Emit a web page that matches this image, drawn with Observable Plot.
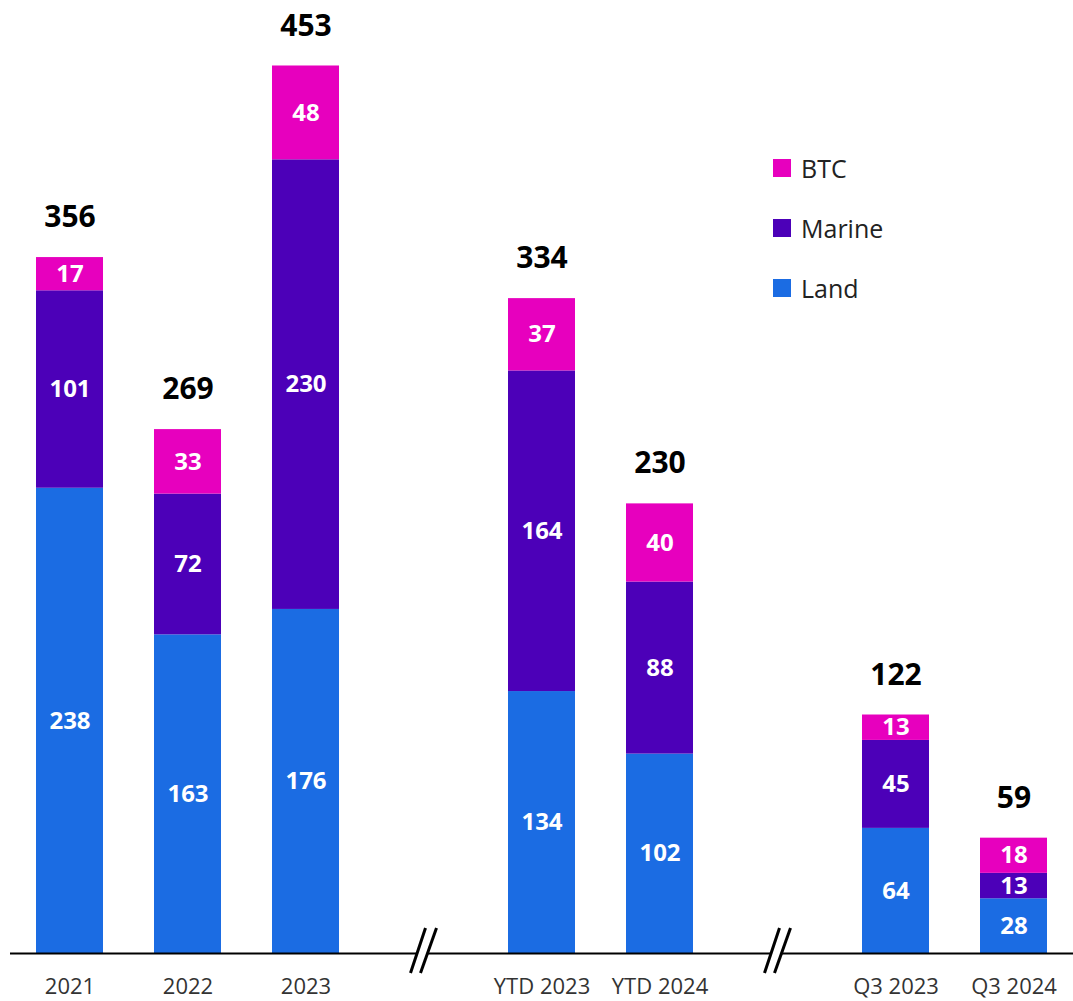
<!DOCTYPE html>
<html>
<head>
<meta charset="utf-8">
<script src="https://cdn.jsdelivr.net/npm/d3@7"></script>
<script src="https://cdn.jsdelivr.net/npm/@observablehq/plot@0.6"></script>
<style>
  html, body { margin: 0; padding: 0; background: #fff; }
  #wrap { position: relative; width: 1073px; height: 1001px; overflow: hidden; font-family: "Open Sans", "Noto Sans", sans-serif; }
  #legend { position: absolute; left: 773px; top: 138px; }
  .item { display: flex; align-items: center; height: 60px; font-size: 25px; color: #222; }
  .item span.sw { width: 18px; height: 18px; margin-right: 10px; display: inline-block; }
</style>
</head>
<body>
<div id="wrap"><div id="legend"></div></div>
<script>
const categories = ["2021", "2022", "2023", "YTD 2023", "YTD 2024", "Q3 2023", "Q3 2024"];
const slots = ["2021", "2022", "2023", "gap1", "YTD 2023", "YTD 2024", "gap2", "Q3 2023", "Q3 2024"];
const breaks = ["gap1", "gap2"];
const land = [238, 163, 176, 134, 102, 64, 28];
const marine = [101, 72, 230, 164, 88, 45, 13];
const btc = [17, 33, 48, 37, 40, 13, 18];
const totals = [356, 269, 453, 334, 230, 122, 59];
const seriesNames = ["Land", "Marine", "BTC"];
const seriesColors = ["#1B6CE3", "#4C00B8", "#E700BE"];

const rows = [];
categories.forEach((c, i) => {
  rows.push({cat: c, series: "Land", value: land[i]});
  rows.push({cat: c, series: "Marine", value: marine[i]});
  rows.push({cat: c, series: "BTC", value: btc[i]});
});
const totalRows = categories.map((c, i) => ({cat: c, total: totals[i], top: land[i] + marine[i] + btc[i]}));

const font = `"Open Sans", "Noto Sans", sans-serif`;

const plot = Plot.plot({
  width: 1073,
  height: 1001,
  marginLeft: 10,
  marginRight: 0,
  marginTop: 0,
  marginBottom: 48,
  style: {fontFamily: font, background: "white"},
  x: {domain: slots, range: [10, 1073], paddingInner: 0.43, paddingOuter: 0.215, label: null, axis: null},
  y: {domain: [0, 487.5], axis: null},
  color: {domain: seriesNames, range: seriesColors},
  marks: [
    Plot.barY(rows, {x: "cat", y: "value", fill: "series", order: seriesNames}),
    Plot.text(rows, Plot.stackY({x: "cat", y: "value", z: "series", order: seriesNames, text: d => String(d.value), fill: "white", fontSize: 24, fontWeight: "bold"})),
    Plot.text(totalRows, {x: "cat", y: "top", text: d => String(d.total), dy: -40, fill: "black", fontSize: 30, fontWeight: "bold"}),
    Plot.ruleY([0], {stroke: "black", strokeWidth: 2}),
    Plot.axisX({ticks: categories, tickSize: 0, tickPadding: 25, fontSize: 22, color: "#333", label: null, tickFormat: d => d})
  ]
});

document.getElementById("wrap").prepend(plot);

// break marks placed in the gap slots, using the plot's scales
const xs = plot.scale("x"), ys = plot.scale("y");
const svg = d3.select(plot);
const y0 = ys.apply(0);
breaks.forEach(b => {
  const cx = xs.apply(b) + xs.bandwidth / 2;
  const g = svg.append("g");
  g.append("polygon")
    .attr("points", [[cx - 13, y0 + 20], [cx + 2, y0 - 25], [cx + 13, y0 - 25], [cx - 3, y0 + 20]].map(p => p.join(",")).join(" "))
    .attr("fill", "white");
  g.append("line").attr("x1", cx - 13).attr("y1", y0 + 20).attr("x2", cx + 2).attr("y2", y0 - 25).attr("stroke", "black").attr("stroke-width", 3);
  g.append("line").attr("x1", cx - 3).attr("y1", y0 + 20).attr("x2", cx + 13).attr("y2", y0 - 25).attr("stroke", "black").attr("stroke-width", 3);
});

// legend (top to bottom: BTC, Marine, Land)
const legend = document.getElementById("legend");
[2, 1, 0].forEach(i => {
  const it = document.createElement("div");
  it.className = "item";
  it.innerHTML = `<span class="sw" style="background:${seriesColors[i]}"></span>${seriesNames[i]}`;
  legend.appendChild(it);
});
</script>
</body>
</html>
